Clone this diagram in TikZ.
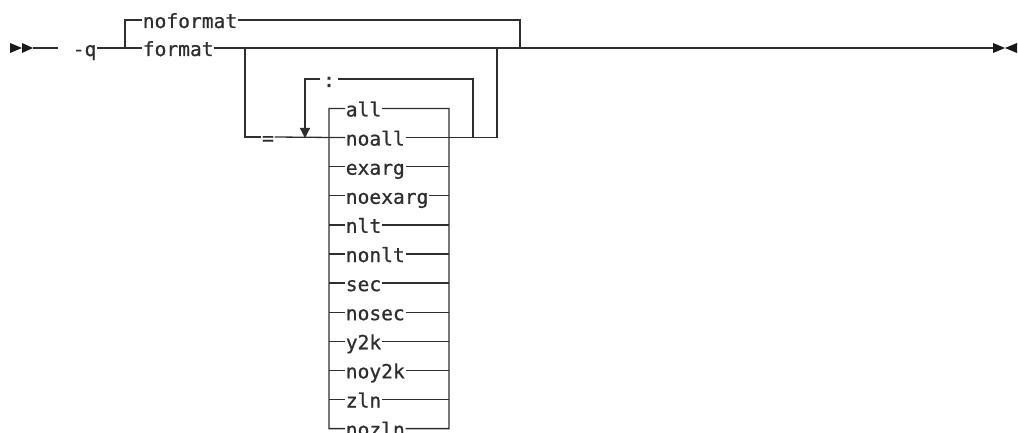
\documentclass[tikz,border=0pt]{standalone}
\usepackage{fontspec}
\newfontfamily\syntaxmono[FakeBold=0.8]{DejaVu Sans Mono}
\usetikzlibrary{arrows.meta}
\begin{document}
\begin{tikzpicture}[x=1pt,y=-1pt,
  rail/.style={line width=1.3pt,draw=black!82},
  lbl/.style={inner xsep=0.6pt,inner ysep=0pt,text height=20pt,text depth=4pt,
    font=\syntaxmono\fontsize{19.6}{20}\selectfont,text=black!82,anchor=west},
  tipfill/.style={fill=black!90}]
\useasboundingbox (0,0) rectangle (1018,433);
% start / end markers
\fill[tipfill] (10,43) -- (22,48) -- (10,53) -- cycle;
\fill[tipfill] (22,43) -- (33,48) -- (22,53) -- cycle;
\fill[tipfill] (993,43) -- (1005,48) -- (993,53) -- cycle;
\fill[tipfill] (1017,43) -- (1005,48) -- (1017,53) -- cycle;
\coordinate (s1) at (33,48);
\coordinate (s2) at (58,48);
\coordinate (fin) at (993,48);
\coordinate (b1) at (125,48);
\coordinate (j1) at (520,48);
\coordinate (j2) at (245,48);
\coordinate (j3) at (497,48);
\coordinate (L1) at (473,137);
\coordinate (La) at (305,138);
\coordinate (SLt) at (329,108.5);
\coordinate (SLb) at (329,428.6);
\coordinate (SRt) at (449,108.5);
\coordinate (SRb) at (449,428.6);
% labels
\node[lbl] (q) at (72,48) {-q};
\node[lbl] (nof) at (142,20) {noformat};
\node[lbl] (fmt) at (142,48) {format};
\node[lbl,anchor=center,inner xsep=0.5pt] (eq) at (268,137) {=};
\node[lbl,anchor=center,inner xsep=3pt] (col) at (329,79) {:};
\foreach \t [count=\i from 0] in {all,noall,exarg,noexarg,nlt,nonlt,sec,nosec,y2k,noy2k,zln,nozln}{
  \node[lbl] (r\i) at (345,108.5+29.1*\i) {\t};
}
% main rail
\draw[rail] (s1) -- (s2);
\draw[rail] (q.east) -- (fmt.west);
\draw[rail] (b1) |- (nof.west);
\draw[rail] (nof.east) -| (j1);
\draw[rail] (fmt.east) -- (fin);
% = branch
\draw[rail] (j2) |- (eq.west);
\draw[rail] (eq.east) -- (r1.west);
\draw[rail] (r1.east) -| (j3);
% repeat loop
\draw[rail] (L1) |- (col.east);
\draw[rail,-{Triangle[length=10pt,width=10pt]}] (col.west) -| (La);
% choice stack
\draw[rail] (r0.west) -- (SLt) -- (SLb) -- (r11.west);
\draw[rail] (r0.east) -- (SRt) -- (SRb) -- (r11.east);
\foreach \i in {2,...,10}{
  \draw[rail] (r\i.west) -- (r\i.west -| SLt);
  \draw[rail] (r\i.east) -- (r\i.east -| SRt);
}
\end{tikzpicture}
\end{document}
